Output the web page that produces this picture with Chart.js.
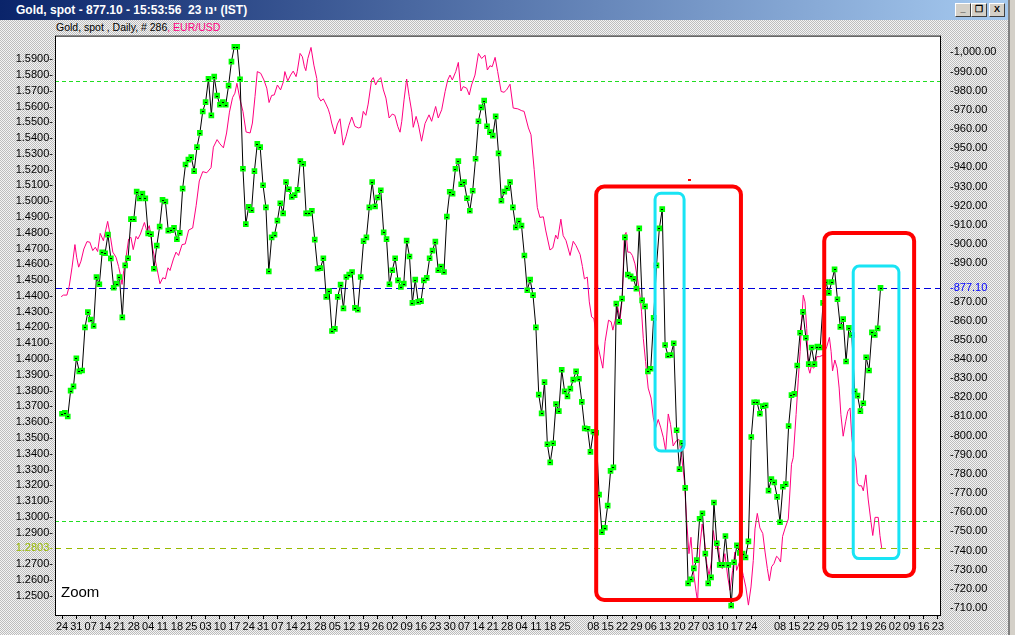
<!DOCTYPE html>
<html>
<head>
<meta charset="utf-8">
<script src="https://cdn.jsdelivr.net/npm/chart.js@4/dist/chart.umd.min.js"></script>
<style>
  html, body { margin: 0; padding: 0; width: 1015px; height: 635px; overflow: hidden; }
  #win { position: absolute; left: 0; top: 0; width: 1015px; height: 635px; background: #dcdcdc; }
  #titlebar { position: absolute; left: 0; top: 0; width: 1008px; height: 20px;
    background: linear-gradient(to right, #0a246a, #a6caf0); }
  #titletext { position: absolute; left: 16px; top: 3px; color: #fff; font: bold 12px Arial, "Liberation Sans", sans-serif; white-space: pre; }
  .btn { position: absolute; top: 3px; width: 16px; height: 14px; background: #d4d0c8; box-sizing: border-box;
    border: 1px solid; border-color: #fff #404040 #404040 #fff; font: bold 9px Arial, sans-serif;
    text-align: center; line-height: 11px; color: #000; }
  #rightframe { position: absolute; left: 1008px; top: 0; width: 7px; height: 635px; background: #d4d0c8;
    border-left: 2px solid #808080; box-sizing: border-box; }
  #subtitle { position: absolute; left: 56px; top: 21px; font: 10.5px Arial, "Liberation Sans", sans-serif; white-space: pre; color: #000; }
  #chartbox { position: absolute; left: 0; top: 20px; width: 1000px; height: 615px; }
</style>
</head>
<body>
<div id="win">
  <div id="titlebar"><span id="titletext">Gold, spot - 877.10 - 15:53:56  23 ינו (IST)</span></div>
  <div class="btn" style="left:955px">_</div>
  <div class="btn" style="left:971px">&#10064;</div>
  <div class="btn" style="left:989px">X</div>
  <div id="rightframe"></div>
  <div id="subtitle">Gold, spot , Daily, # 286<span style="color:#ff0080">, EUR/USD</span></div>
  <div id="chartbox"><canvas id="chart" width="1000" height="615"></canvas></div>
</div>
<script>
// gold daily close, one value per trading day starting Mon 24 Dec 2007
const goldClose = [
  811.4, 811.9, 810.0, 823.5, 825.7, 840.4, 833.5, 834.0, 856.5, 864.5,
  860.6, 857.2, 882.8, 879.0, 895.7, 895.2, 904.9, 892.5, 877.2, 879.3,
  882.8, 861.7, 888.9, 892.6, 913.0, 913.0, 927.4, 923.8, 926.3, 923.8,
  905.6, 905.2, 887.1, 899.2, 909.1, 923.1, 922.2, 907.0, 907.3, 908.4,
  902.5, 905.8, 928.9, 941.5, 944.1, 945.4, 938.1, 950.6, 958.0, 969.2,
  974.1, 986.2, 967.2, 987.4, 977.5, 972.7, 974.1, 972.7, 982.7, 995.2,
  1003.0, 1003.0, 986.0, 939.3, 910.4, 919.4, 917.7, 938.1, 952.3, 950.6,
  930.7, 919.1, 885.7, 903.5, 904.9, 912.2, 921.3, 916.0, 932.4, 928.6,
  924.6, 925.5, 928.3, 943.3, 941.9, 916.0, 916.0, 917.4, 902.3, 887.1,
  887.4, 892.6, 872.4, 875.4, 854.6, 855.7, 872.4, 878.8, 866.4, 882.8,
  884.0, 885.4, 866.7, 865.8, 882.8, 901.5, 903.5, 919.1, 932.4, 919.6,
  924.3, 928.1, 906.1, 902.6, 879.0, 886.3, 892.6, 881.0, 877.6, 879.3,
  901.8, 893.5, 869.3, 881.4, 869.8, 870.2, 881.0, 882.3, 892.6, 896.6,
  901.3, 886.3, 888.3, 885.4, 914.3, 927.3, 926.3, 939.3, 943.3, 931.2,
  932.4, 923.9, 917.4, 927.8, 944.5, 964.1, 971.3, 974.9, 961.5, 958.4,
  956.6, 966.6, 947.3, 922.6, 927.4, 929.1, 932.4, 919.1, 908.7, 912.2,
  909.6, 894.0, 875.9, 881.4, 873.3, 856.5, 821.4, 811.6, 827.9, 795.5,
  786.0, 796.0, 816.5, 812.8, 834.4, 823.1, 820.5, 824.5, 829.2, 833.5,
  829.7, 817.6, 803.8, 803.6, 791.5, 802.0, 801.5, 769.2, 749.6, 751.9,
  763.5, 781.6, 783.4, 868.9, 859.4, 871.5, 903.5, 884.0, 883.1, 881.9,
  876.7, 908.2, 870.6, 867.5, 833.5, 834.9, 861.5, 888.9, 908.2, 918.2,
  847.3, 841.8, 842.1, 848.2, 802.8, 782.5, 796.3, 772.7, 722.9, 725.0,
  730.7, 735.0, 756.6, 759.5, 738.4, 722.9, 726.0, 765.1, 743.8, 732.5,
  732.5, 747.6, 732.5, 711.3, 733.9, 742.7, 738.8, 738.4, 736.4, 744.8,
  799.3, 817.4, 817.4, 811.4, 815.4, 815.8, 771.3, 777.3, 775.6, 768.0,
  754.8, 773.3, 774.7, 805.0, 821.1, 821.8, 836.6, 853.7, 864.6, 851.1,
  837.3, 846.0, 837.3, 846.5, 846.0, 869.3, 880.2, 874.5, 880.2, 886.8,
  871.2, 856.8, 860.8, 838.7, 856.3, 852.5, 823.1, 820.9, 812.8, 816.9,
  840.9, 834.0, 853.9, 852.5, 856.0, 877.1
];

// EUR/USD overlay, read at its turning points (trading-day position, rate)
const eurDay = [
  -0.3, 0.5, 1.7, 2.5, 3.5, 4.5, 5.1, 5.8, 6.6, 7.6, 8.7, 9.7, 10.7, 11.6, 12.4, 13.3, 14.4, 15.3, 15.9, 16.7,
  17.7, 18.8, 19.7, 20.3, 20.9, 21.5, 22.3, 23.2, 24.0, 24.8, 25.8, 26.4, 27.3, 28.1, 28.7, 29.5, 30.4, 31.6, 32.7, 34.1,
  35.1, 36.0, 36.9, 37.6, 38.8, 39.7, 40.6, 41.8, 42.9, 44.1, 45.5, 46.7, 47.8, 49.0, 50.4, 51.9, 52.7, 54.0, 55.0, 56.2,
  57.3, 58.3, 59.4, 60.2, 60.9, 62.0, 63.0, 64.1, 65.5, 66.3, 67.2, 68.0, 69.2, 70.3, 71.3, 72.1, 73.0, 73.9, 75.0, 76.1,
  77.1, 77.6, 78.6, 79.6, 80.5, 81.5, 81.9, 82.9, 83.7, 84.4, 84.9, 85.6, 86.7, 87.7, 88.7, 89.2, 90.1, 91.0, 91.9, 92.7,
  93.3, 93.9, 95.0, 95.9, 96.8, 97.9, 98.9, 99.9, 100.9, 102.0, 103.2, 104.0, 104.9, 105.8, 106.6, 107.8, 108.4, 109.2, 109.9, 111.0,
  111.9, 112.8, 113.9, 115.0, 115.9, 116.9, 117.7, 118.3, 119.1, 120.0, 120.9, 121.8, 122.3, 123.3, 124.1, 125.2, 126.4, 127.8, 128.7, 130.1,
  131.0, 132.2, 133.4, 134.3, 135.1, 135.9, 137.1, 138.0, 138.9, 139.7, 140.9, 141.8, 142.6, 143.8, 145.0, 146.1, 147.3, 148.1, 149.0, 149.8,
  150.8, 151.7, 152.9, 153.9, 154.8, 156.0, 157.1, 158.7, 160.1, 160.9, 162.4, 163.3, 164.4, 165.5, 166.4, 167.6, 168.4, 169.9, 170.9, 171.9,
  172.6, 173.7, 174.5, 175.5, 176.9, 178.0, 179.0, 180.4, 181.2, 181.9, 182.9, 183.6, 184.4, 185.2, 186.3, 187.3, 188.3, 189.1, 190.3, 191.2,
  191.8, 192.6, 193.4, 194.3, 195.1, 195.8, 196.4, 197.0, 197.8, 198.6, 199.5, 200.4, 201.3, 201.8, 202.4, 203.2, 204.1, 205.1, 205.9, 206.7,
  207.6, 208.5, 209.4, 210.2, 211.1, 211.9, 212.8, 213.8, 214.8, 215.8, 216.7, 217.5, 218.3, 219.0, 219.8, 220.8, 221.3, 222.1, 222.9, 223.6,
  224.5, 225.3, 226.2, 226.8, 227.6, 228.3, 229.1, 229.9, 230.8, 231.8, 232.6, 233.5, 234.3, 234.9, 236.1, 237.2, 238.1, 239.0, 239.9, 240.7,
  241.3, 242.1, 243.0, 244.0, 244.8, 245.6, 246.3, 247.1, 247.9, 248.8, 249.4, 250.2, 250.9, 251.7, 252.9, 254.0, 254.6, 255.6, 256.4, 257.0,
  257.6, 258.1, 258.7, 259.3, 259.9, 260.4, 261.0, 261.6, 262.2, 262.8, 263.7, 265.1, 266.3, 267.2, 267.8, 268.3, 269.1, 269.9, 270.6, 271.2,
  272.0, 272.9, 273.6, 274.4, 275.0, 275.8, 276.4, 276.9, 277.5, 278.4, 279.0, 279.9, 280.7, 281.7, 282.3, 283.1, 284.2, 284.8, 285.4
];
const eurRate = [
  1.4395, 1.4405, 1.4405, 1.4460, 1.4582, 1.4725, 1.4645, 1.4582, 1.4620, 1.4697, 1.4744, 1.4740, 1.4687, 1.4708, 1.4681, 1.4796, 1.4750, 1.4823, 1.4872, 1.4792,
  1.4677, 1.4645, 1.4586, 1.4536, 1.4473, 1.4561, 1.4645, 1.4760, 1.4771, 1.4693, 1.4777, 1.4760, 1.4792, 1.4834, 1.4865, 1.4813, 1.4845, 1.4697, 1.4607, 1.4477,
  1.4515, 1.4508, 1.4578, 1.4561, 1.4634, 1.4677, 1.4656, 1.4725, 1.4729, 1.4817, 1.4830, 1.4971, 1.5128, 1.5187, 1.5180, 1.5212, 1.5342, 1.5390, 1.5363, 1.5338,
  1.5432, 1.5564, 1.5657, 1.5684, 1.5747, 1.5642, 1.5569, 1.5438, 1.5432, 1.5495, 1.5663, 1.5821, 1.5810, 1.5768, 1.5716, 1.5625, 1.5670, 1.5673, 1.5736, 1.5705,
  1.5758, 1.5821, 1.5762, 1.5799, 1.5824, 1.5789, 1.5821, 1.5936, 1.5915, 1.5852, 1.5827, 1.5904, 1.5974, 1.5862, 1.5778, 1.5663, 1.5635, 1.5648, 1.5615, 1.5583,
  1.5547, 1.5495, 1.5426, 1.5489, 1.5522, 1.5355, 1.5411, 1.5481, 1.5533, 1.5474, 1.5464, 1.5468, 1.5569, 1.5544, 1.5615, 1.5768, 1.5783, 1.5736, 1.5762, 1.5783,
  1.5705, 1.5653, 1.5527, 1.5552, 1.5544, 1.5474, 1.5437, 1.5506, 1.5642, 1.5774, 1.5663, 1.5564, 1.5468, 1.5537, 1.5484, 1.5380, 1.5492, 1.5547, 1.5506, 1.5600,
  1.5527, 1.5579, 1.5695, 1.5768, 1.5799, 1.5768, 1.5821, 1.5879, 1.5698, 1.5726, 1.5716, 1.5673, 1.5736, 1.5799, 1.5936, 1.5904, 1.5925, 1.5831, 1.5858, 1.5852,
  1.5911, 1.5821, 1.5695, 1.5690, 1.5705, 1.5741, 1.5590, 1.5585, 1.5573, 1.5569, 1.5464, 1.5421, 1.5201, 1.4960, 1.4897, 1.4901, 1.4817, 1.4691, 1.4704, 1.4785,
  1.4760, 1.4886, 1.4782, 1.4750, 1.4656, 1.4746, 1.4718, 1.4662, 1.4586, 1.4508, 1.4519, 1.4362, 1.4267, 1.4256, 1.4110, 1.4026, 1.3942, 1.4110, 1.4246, 1.4236,
  1.4183, 1.4246, 1.4341, 1.4246, 1.4387, 1.4782, 1.4802, 1.4677, 1.4677, 1.4656, 1.4603, 1.4508, 1.4393, 1.4299, 1.4131, 1.3984, 1.3816, 1.3753, 1.3627, 1.3564,
  1.3617, 1.3564, 1.3501, 1.3417, 1.3652, 1.3585, 1.3449, 1.3480, 1.3491, 1.3375, 1.3228, 1.2976, 1.2767, 1.2871, 1.2661, 1.2525, 1.2462, 1.2808, 1.2955, 1.2871,
  1.2704, 1.2630, 1.2724, 1.2913, 1.2808, 1.2850, 1.2724, 1.2672, 1.2767, 1.2619, 1.2535, 1.2661, 1.2777, 1.2661, 1.2724, 1.2630, 1.2556, 1.2441, 1.2556, 1.2724,
  1.2924, 1.3022, 1.2930, 1.2895, 1.2777, 1.2672, 1.2595, 1.2685, 1.2704, 1.2750, 1.2741, 1.2714, 1.2876, 1.2924, 1.2987, 1.3333, 1.3375, 1.3648, 1.3879, 1.4047,
  1.4256, 1.4404, 1.4362, 1.4193, 1.3942, 1.3910, 1.3963, 1.3942, 1.3952, 1.4015, 1.4015, 1.4026, 1.4078, 1.4137, 1.4047, 1.3925, 1.3994, 1.3942, 1.3816, 1.3648,
  1.3511, 1.3606, 1.3669, 1.3690, 1.3501, 1.3396, 1.3354, 1.3217, 1.3197, 1.3197, 1.3165, 1.3266, 1.3113, 1.2966, 1.2882, 1.2997, 1.2997, 1.2882, 1.2803
];

// weekly date ticks (Mondays), '' = week with no label
const weekLabels = [
  '24','31','07','14','21','28','04','11','18','25','03','10','17','24','31','07','14','21','28','05',
  '12','19','26','02','09','16','23','30','07','14','21','28','04','11','18','25','','08','15','22',
  '29','06','13','20','27','03','10','17','24','','08','15','22','29','05','12','19','26','02','09',
  '16','23'
];

// labelled range of each price axis
const eurTickRange = [1.25, 1.59];
const goldTickRange = [710, 1000];

const goldLast = 877.10;
const eurLast = 1.2803;

// horizontal level lines
const levels = [
  { axis: 'yR', value: 985.2, color: '#22dd22', dash: [4, 3] },
  { axis: 'yR', value: 755.2, color: '#22dd22', dash: [4, 3] },
  { axis: 'yR', value: goldLast, color: '#0000dd', dash: [7, 4] },
  { axis: 'yL', value: eurLast, color: '#99bb00', dash: [6, 5] }
];

// hand-drawn highlight boxes (trading day, gold price)
const boxes = [
  { x0: 186.0, x1: 236.4, y0: 930.0, y1: 714.2, color: '#ff0000', width: 4, r: 8 },
  { x0: 265.4, x1: 296.7, y0: 905.8, y1: 726.7, color: '#ff0000', width: 4, r: 8 },
  { x0: 206.5, x1: 216.6, y0: 926.5, y1: 792.0, color: '#18e4f4', width: 3, r: 6 },
  { x0: 275.5, x1: 291.4, y0: 888.5, y1: 735.8, color: '#18e4f4', width: 3, r: 6 }
];

// dithered window background
const pc = document.createElement('canvas');
pc.width = 2; pc.height = 2;
const pg = pc.getContext('2d');
pg.fillStyle = '#f4f4f4'; pg.fillRect(0, 0, 2, 2);
pg.fillStyle = '#bdbdbd'; pg.fillRect(0, 0, 1, 1); pg.fillRect(1, 1, 1, 1);
document.getElementById('win').style.backgroundImage = 'url(' + pc.toDataURL() + ')';

function roundBox(ctx, x0, y0, x1, y1, r) {
  ctx.beginPath();
  ctx.moveTo(x0 + r, y0);
  ctx.lineTo(x1 - r, y0);
  ctx.arcTo(x1, y0, x1, y0 + r, r);
  ctx.lineTo(x1, y1 - r);
  ctx.arcTo(x1, y1, x1 - r, y1, r);
  ctx.lineTo(x0 + r, y1);
  ctx.arcTo(x0, y1, x0, y1 - r, r);
  ctx.lineTo(x0, y0 + r);
  ctx.arcTo(x0, y0, x0 + r, y0, r);
  ctx.closePath();
  ctx.stroke();
}

const decor = {
  id: 'decor',
  beforeDraw(c) {
    const { ctx, chartArea: a } = c;
    ctx.save();
    ctx.fillStyle = '#ffffff';
    ctx.fillRect(a.left, a.top, a.right - a.left, a.bottom - a.top);
    ctx.restore();
  },
  beforeDatasetsDraw(c) {
    const { ctx, chartArea: a } = c;
    ctx.save();
    ctx.lineWidth = 1;
    levels.forEach(l => {
      const y = Math.round(c.scales[l.axis].getPixelForValue(l.value)) + 0.5;
      ctx.strokeStyle = l.color;
      ctx.setLineDash(l.dash);
      ctx.beginPath();
      ctx.moveTo(a.left, y);
      ctx.lineTo(a.right, y);
      ctx.stroke();
    });
    ctx.restore();
  },
  afterDatasetsDraw(c) {
    const { ctx, chartArea: a } = c;
    const xs = c.scales.x, yr = c.scales.yR;
    ctx.save();
    // dot in the middle of each gold marker
    ctx.fillStyle = '#000';
    c.getDatasetMeta(0).data.forEach(p => ctx.fillRect(Math.round(p.x) - 1, Math.round(p.y), 2, 1));
    // boxes
    boxes.forEach(b => {
      ctx.strokeStyle = b.color;
      ctx.lineWidth = b.width;
      roundBox(ctx, xs.getPixelForValue(b.x0), yr.getPixelForValue(b.y0),
        xs.getPixelForValue(b.x1), yr.getPixelForValue(b.y1), b.r);
    });
    // small red stray mark
    ctx.fillStyle = '#ff0000';
    ctx.fillRect(Math.round(xs.getPixelForValue(218.4)) - 1, Math.round(yr.getPixelForValue(933.5)) - 1, 3, 2);
    // label
    ctx.fillStyle = '#000';
    ctx.font = '15px Arial, "Liberation Sans", sans-serif';
    ctx.textBaseline = 'alphabetic';
    ctx.fillText('Zoom', a.left + 6, a.bottom - 19);
    // frame
    ctx.strokeStyle = '#000';
    ctx.lineWidth = 1;
    ctx.strokeRect(a.left + 0.5, a.top + 0.5, a.right - a.left - 1, a.bottom - a.top - 1);
    ctx.restore();
  }
};

const axisFont = { family: 'Arial, "Liberation Sans", sans-serif', size: 11 };

new Chart(document.getElementById('chart').getContext('2d'), {
  type: 'line',
  data: {
    datasets: [
      {
        label: 'Gold, spot',
        data: goldClose.map((v, i) => ({ x: i, y: v })),
        yAxisID: 'yR',
        borderColor: '#000000',
        borderWidth: 1,
        pointStyle: 'rect',
        pointRadius: 4,
        pointBackgroundColor: '#00ff00',
        pointBorderWidth: 0,
        tension: 0
      },
      {
        label: 'EUR/USD',
        data: eurDay.map((d, i) => ({ x: d, y: eurRate[i] })),
        yAxisID: 'yL',
        borderColor: '#ff0080',
        borderWidth: 1,
        pointRadius: 0,
        tension: 0
      }
    ]
  },
  options: {
    responsive: false,
    animation: false,
    events: [],
    layout: { padding: { top: 12, left: 0, right: 0, bottom: 0 } },
    plugins: { legend: { display: false }, tooltip: { enabled: false } },
    scales: {
      x: {
        type: 'linear',
        min: -2.44,
        max: 306.06,
        afterBuildTicks: s => {
          s.ticks = weekLabels.map((l, k) => ({ value: k * 5, label: l })).filter(t => t.label !== '');
        },
        afterFit: s => { s.height = 19; },
        ticks: {
          autoSkip: false, maxRotation: 0, padding: 1, color: '#000', font: axisFont,
          callback: v => weekLabels[Math.round(v / 5)]
        },
        grid: { drawOnChartArea: false, tickLength: 3, color: '#000' },
        border: { display: false }
      },
      yL: {
        position: 'left',
        min: 1.2372,
        max: 1.6049,
        afterBuildTicks: s => {
          s.ticks = s.ticks.filter(t => t.value > eurTickRange[0] - 1e-6 && t.value < eurTickRange[1] + 1e-6);
          s.ticks.forEach(t => { if (Math.abs(t.value - 1.28) < 1e-6) t.value = eurLast; });
        },
        afterFit: s => { s.width = 55; },
        ticks: {
          autoSkip: false, stepSize: 0.01, includeBounds: false, padding: 2, font: axisFont,
          color: ctx => Math.abs(ctx.tick.value - eurLast) < 1e-6 ? '#99bb00' : '#000',
          callback: v => v.toFixed(4) + '-'
        },
        grid: { display: false, drawTicks: false },
        border: { display: false }
      },
      yR: {
        position: 'right',
        min: 705.85,
        max: 1008.8,
        afterBuildTicks: s => {
          s.ticks = s.ticks.filter(t => t.value > goldTickRange[0] - 1e-6 && t.value < goldTickRange[1] + 1e-6);
          s.ticks.forEach(t => { if (Math.abs(t.value - 880) < 1e-6) t.value = goldLast; });
        },
        afterFit: s => { s.width = 59; },
        ticks: {
          autoSkip: false, stepSize: 10, includeBounds: false, padding: 9, font: axisFont,
          color: ctx => Math.abs(ctx.tick.value - goldLast) < 1e-6 ? '#0000ff' : '#000',
          callback: v => '-' + v.toLocaleString('en-US', { minimumFractionDigits: 2, maximumFractionDigits: 2 })
        },
        grid: { display: false, drawTicks: false },
        border: { display: false }
      }
    }
  },
  plugins: [decor]
});
</script>
</body>
</html>
